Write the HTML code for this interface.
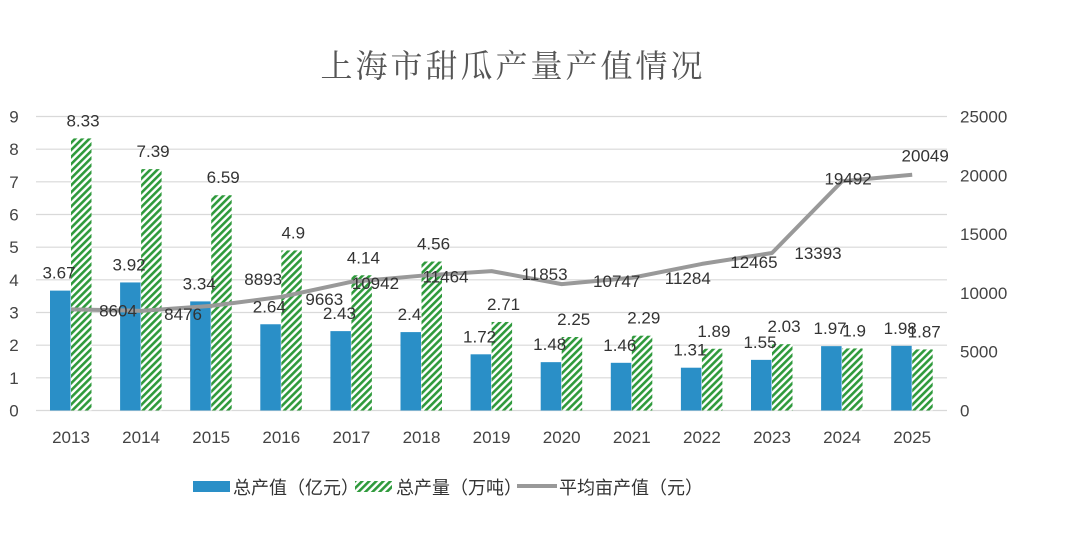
<!DOCTYPE html>
<html><head><meta charset="utf-8"><style>
body{margin:0;background:#fff;}
svg text{font-family:"Liberation Sans","Noto Sans CJK SC",sans-serif;}
</style></head><body>
<svg width="1080" height="542" viewBox="0 0 1080 542" xmlns="http://www.w3.org/2000/svg">
<defs>
<pattern id="hatch" patternUnits="userSpaceOnUse" width="5" height="5" patternTransform="rotate(-45)">
<rect width="5" height="5" fill="#fff"/>
<rect width="5" height="2.6" fill="#2f9a3c"/>
</pattern>
</defs>
<text x="513" y="77" text-anchor="middle" font-size="32" fill="#555" letter-spacing="3" style="font-family:'Noto Serif CJK SC',serif">上海市甜瓜产量产值情况</text>
<g id="grid"></g><g id="bars"></g><g id="line"></g><g id="labels"></g>
<g>
<rect x="193" y="481" width="37" height="11" fill="#2a8fc7"/>
<text x="233" y="494" font-size="18" fill="#333">总产值（亿元）</text>
<rect x="355" y="481" width="37" height="11" fill="url(#hatch)"/>
<text x="396" y="494" font-size="18" fill="#333">总产量（万吨）</text>
<line x1="517" y1="486" x2="557" y2="486" stroke="#999" stroke-width="4"/>
<text x="559" y="494" font-size="18" fill="#333">平均亩产值（元）</text>
</g>
</svg>
<script>
const years=['2013','2014','2015','2016','2017','2018','2019','2020','2021','2022','2023','2024','2025'];
const valueSeries=[3.67,3.92,3.34,2.64,2.43,2.4,1.72,1.48,1.46,1.31,1.55,1.97,1.98];
const outputSeries=[8.33,7.39,6.59,4.9,4.14,4.56,2.71,2.25,2.29,1.89,2.03,1.9,1.87];
const avgSeries=[8604,8476,8893,9663,10942,11464,11853,10747,11284,12465,13393,19492,20049];
const leftTicks=[0,1,2,3,4,5,6,7,8,9];
const rightTicks=[0,5000,10000,15000,20000,25000];
// label placement offsets (style, not data)
const avgDx=[47,42,52,43,24,24,53,55,56,52,46,6,13];
const avgDy=[1,3,-27,2,1,1,3,-3,0,-2,0,-3,-19];
const NS='http://www.w3.org/2000/svg';
const y0=410.5,yTop=116.5;
const yL=v=>y0-v/9*(y0-yTop);
const yR=v=>y0-v/25000*(y0-yTop);
const xC=i=>71+i*70.1;
function mk(tag,attrs,parent){const e=document.createElementNS(NS,tag);for(const k in attrs)e.setAttribute(k,attrs[k]);document.getElementById(parent).appendChild(e);return e;}
leftTicks.forEach(t=>{
 const l=mk('line',{x1:36,x2:947,y1:yL(t),y2:yL(t),stroke:'#d9d9d9','stroke-width':1.2},'grid');
 
 
 const tx=mk('text',{x:14,y:yL(t)+6,'font-size':17,fill:'#444','text-anchor':'middle'},'grid');tx.textContent=t;
 
 
});
rightTicks.forEach(t=>{
 const tx=mk('text',{x:960,y:yR(t)+6,'font-size':17,fill:'#444'},'grid');tx.textContent=t;
 
 
});
years.forEach((yr,i)=>{
 const c=xC(i);
 const b=mk('rect',{x:c-21,y:yL(valueSeries[i]),width:20.5,height:y0-yL(valueSeries[i]),fill:'#2a8fc7'},'bars');
 
 
 const g=mk('rect',{x:c,y:yL(outputSeries[i]),width:20.5,height:y0-yL(outputSeries[i]),fill:'url(#hatch)'},'bars');
 
 
 const xl=mk('text',{x:c,y:443,'font-size':17,fill:'#444','text-anchor':'middle'},'labels');xl.textContent=yr;
 
 
 const bl=mk('text',{x:c-12,y:yL(valueSeries[i])-12,'font-size':17,fill:'#333','text-anchor':'middle'},'labels');bl.textContent=valueSeries[i];
 
 
 const gl=mk('text',{x:c+12,y:yL(outputSeries[i])-12,'font-size':17,fill:'#333','text-anchor':'middle'},'labels');gl.textContent=outputSeries[i];
 
 
 const al=mk('text',{x:c+avgDx[i],y:yR(avgSeries[i])+6+avgDy[i],'font-size':17,fill:'#333','text-anchor':'middle'},'labels');al.textContent=avgSeries[i];
 
 
});
const pl=mk('polyline',{points:avgSeries.map((v,i)=>xC(i)+','+yR(v)).join(' '),fill:'none',stroke:'#999','stroke-width':4,'stroke-linejoin':'round'},'line');


</script>
</body></html>
